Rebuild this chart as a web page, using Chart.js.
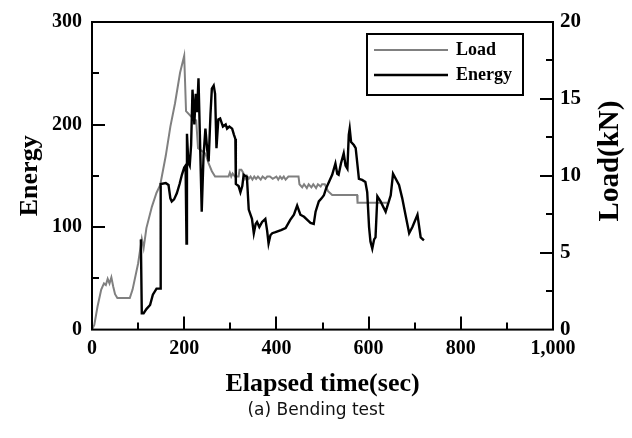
<!DOCTYPE html>
<html>
<head>
<meta charset="utf-8">
<script src="https://cdn.jsdelivr.net/npm/chart.js@4"></script>
<style>
	body { margin: 0; background: #fff; }
	canvas { display: block; }
</style>
</head>
<body>
<canvas id="bending" width="632" height="438"></canvas>
<script>
// load curve (right axis, kN)
var loadTime = [0, 5, 12, 20, 26, 30, 34, 38, 42, 46, 50, 55, 82, 88, 100, 108, 112, 118, 130, 140, 148, 160, 170, 180, 191, 200,
	204, 220, 226, 230, 246, 253, 260, 267, 296, 299, 302, 305, 310, 318, 320, 324, 328, 332, 336, 340, 344, 348, 352, 356,
	360, 366, 370, 376, 380, 386, 392, 400, 404, 408, 412, 416, 420, 426, 430, 436, 448, 450, 456, 460, 466, 470, 476,
	480, 486, 490, 496, 499, 505, 512, 521, 575, 576, 640];
var loadValue = [0, 0.3, 1.5, 2.6, 3.0, 2.9, 3.3, 3.0, 3.4, 2.8, 2.3, 2.05, 2.05, 2.6, 4.3, 5.9, 5.3, 6.6, 8.0, 8.9, 9.4, 11.3, 13.2, 14.7, 16.7, 17.8,
	14.2, 13.7, 13.6, 11.8, 11.45, 10.8, 10.3, 9.95, 9.95, 10.2, 9.95, 10.15, 9.95, 9.95, 10.4, 10.4, 10.2, 9.8, 10.0, 9.8, 9.95, 9.75,
	9.95, 9.8, 9.95, 9.75, 9.95, 9.8, 9.95, 9.95, 9.8, 9.95, 9.75, 9.95, 9.8, 9.95, 9.75, 9.95, 9.95, 9.95, 9.95, 9.45, 9.25,
	9.45, 9.2, 9.45, 9.25, 9.45, 9.2, 9.45, 9.3, 9.45, 9.45, 9.0, 8.75, 8.75, 8.25, 8.25];

// energy curve (left axis)
var energyTime = [106, 108, 112, 118, 126, 132, 140, 148, 149, 160, 166, 170, 173, 178, 184, 190, 195, 200, 203, 205, 206, 209, 212,
	215, 218, 222, 225, 228, 231, 234, 238, 242, 246, 250, 253, 257, 260, 264, 267, 270, 274, 278, 284, 290, 293, 298, 304, 308,
	311, 312, 318, 322, 326, 329, 336, 340, 347, 351, 355, 358, 363, 369, 376, 380, 383, 387, 391, 398, 410, 420, 430, 438, 445,
	452, 460, 467, 474, 481, 485, 492, 498, 503, 508, 514, 521, 528, 532, 535, 540, 546, 550, 554, 557, 559, 562, 568, 572, 576,
	579, 586, 593, 597, 601, 604, 608, 612, 615, 619, 626, 637, 648, 653, 666, 673, 680, 688, 695, 706, 713, 720];
var energyValue = [88, 16, 16, 20, 24, 34, 40, 40, 142, 143, 141, 128, 125, 127, 133, 142, 151, 158, 160, 84, 191, 163, 160,
	180, 234, 200, 230, 212, 245, 190, 115, 170, 196, 175, 164, 210, 235, 238, 230, 177, 205, 206, 198, 200, 196, 198, 196, 190,
	186, 142, 140, 134, 140, 151, 149, 117, 108, 94, 103, 105, 100, 105, 108, 96, 84, 92, 94, 95, 97, 99, 107, 112, 121,
	112, 110, 107, 104, 103, 115, 125, 128, 131, 138, 144, 151, 162, 152, 151, 162, 172, 160, 157, 190, 196, 183, 180, 177, 160,
	147, 146, 144, 134, 100, 86, 79, 88, 90, 130, 125, 115, 131, 152, 141, 128, 112, 94, 100, 112, 90, 87];

var xTickLabels = ['0', '200', '400', '600', '800', '1,000'];
var loadTitle = 'Load(kN)';

var serif = "'Liberation Serif', 'Times New Roman', serif";

function to_points(xs, ys) {
	return xs.map(function (x, i) {
		return { x: x, y: ys[i] };
	});
}

// inward tick marks, long ones on major steps
function draw_ticks(ctx, scale, major, minor, edge, dir) {
	for (var v = scale.min + minor; v < scale.max - 1e-9; v += minor) {
		var isMajor = Math.abs(v / major - Math.round(v / major)) < 1e-6;
		var len = isMajor ? 13 : 7;
		var p = Math.round(scale.getPixelForValue(v));
		ctx.beginPath();
		if (scale.isHorizontal()) {
			ctx.moveTo(p, edge);
			ctx.lineTo(p, edge - len);
		} else {
			ctx.moveTo(edge, p);
			ctx.lineTo(edge + dir * len, p);
		}
		ctx.stroke();
	}
}

var framePlugin = {
	id: 'frame',
	afterDraw: function (chart) {
		var ctx = chart.ctx;
		var a = chart.chartArea;
		ctx.save();
		ctx.strokeStyle = '#000';
		ctx.lineWidth = 2;
		ctx.strokeRect(a.left, a.top, a.right - a.left, a.bottom - a.top);
		draw_ticks(ctx, chart.scales.x, 200, 100, a.bottom, -1);
		draw_ticks(ctx, chart.scales.y, 100, 50, a.left, 1);
		draw_ticks(ctx, chart.scales.y2, 5, 2.5, a.right, -1);

		// legend box
		var bx = a.left + 275, by = a.top + 12, bw = 156, bh = 61;
		ctx.strokeRect(bx, by, bw, bh);
		var order = [1, 0];
		ctx.font = 'bold 18px ' + serif;
		ctx.textBaseline = 'middle';
		ctx.textAlign = 'left';
		order.forEach(function (di, row) {
			var ds = chart.data.datasets[di];
			var ly = by + 16 + row * 25;
			ctx.strokeStyle = ds.borderColor;
			ctx.lineWidth = ds.borderWidth;
			ctx.beginPath();
			ctx.moveTo(bx + 7, ly);
			ctx.lineTo(bx + 81, ly);
			ctx.stroke();
			ctx.fillStyle = '#000';
			ctx.fillText(ds.label, bx + 89, ly);
		});

		// right axis title, reading bottom to top
		ctx.translate(611, 161);
		ctx.rotate(-Math.PI / 2);
		ctx.font = 'bold 29px ' + serif;
		ctx.textAlign = 'center';
		ctx.fillStyle = '#000';
		ctx.fillText(loadTitle, 0, 0);
		ctx.restore();
	}
};

function draw() {
	var ctx = document.getElementById('bending').getContext('2d');

	var myChart = new Chart(ctx, {
		type: 'line',
		data: {
			datasets: [{
				label: 'Energy',
				data: to_points(energyTime, energyValue),
				borderColor: '#000',
				borderWidth: 2.4,
				pointRadius: 0,
				yAxisID: 'y',
				order: 0
			}, {
				label: 'Load',
				data: to_points(loadTime, loadValue),
				borderColor: '#808080',
				borderWidth: 2,
				pointRadius: 0,
				yAxisID: 'y2',
				order: 1
			}]
		},
		options: {
			responsive: false,
			animation: false,
			layout: { padding: { top: 20, left: 0, right: 0, bottom: 0 } },
			plugins: {
				legend: { display: false },
				tooltip: { enabled: false },
				title: {
					display: true,
					position: 'bottom',
					text: '(a) Bending test',
					color: '#111',
					font: { family: "'DejaVu Sans', sans-serif", size: 17, weight: 'normal' },
					padding: { top: 0, bottom: 17 }
				}
			},
			scales: {
				x: {
					type: 'linear',
					min: 0,
					max: 1000,
					grid: { display: false, drawTicks: false },
					border: { display: false },
					ticks: {
						stepSize: 200,
						padding: 7,
						color: '#000',
						font: { family: serif, size: 20, weight: 'bold' },
						maxRotation: 0,
						callback: function (value) {
							return xTickLabels[Math.round(value / 200)];
						}
					},
					title: {
						display: true,
						text: 'Elapsed time(sec)',
						color: '#000',
						font: { family: serif, size: 26, weight: 'bold' },
						padding: { top: 0, bottom: 1 }
					},
					afterFit: function (scale) {
						scale.height = 71;
					}
				},
				y: {
					position: 'left',
					min: 0,
					max: 300,
					grid: { display: false, drawTicks: false },
					border: { display: false },
					ticks: {
						stepSize: 100,
						padding: 10,
						color: '#000',
						font: { family: serif, size: 20, weight: 'bold' }
					},
					title: {
						display: true,
						text: 'Energy',
						color: '#000',
						font: { family: serif, size: 26, weight: 'bold' },
						padding: { top: 15, bottom: 0 }
					},
					afterFit: function (scale) {
						scale.width = 92;
					}
				},
				y2: {
					position: 'right',
					min: 0,
					max: 20,
					grid: { display: false, drawTicks: false },
					border: { display: false },
					ticks: {
						stepSize: 5,
						padding: 7,
						color: '#000',
						font: { family: serif, size: 21, weight: 'bold' }
					},
					afterFit: function (scale) {
						scale.width = 79;
					}
				}
			}
		},
		plugins: [framePlugin]
	});
}

window.onload = function () {
	draw();
};
</script>
</body>
</html>
